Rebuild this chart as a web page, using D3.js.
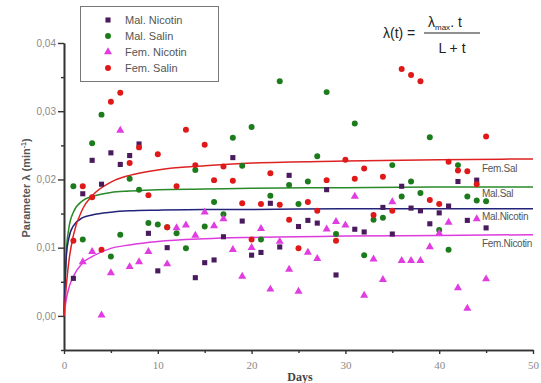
<!DOCTYPE html>
<html>
<head>
<meta charset="utf-8">
<script src="https://cdn.jsdelivr.net/npm/d3@7"></script>
<style>
  body { margin: 0; background: #fff; }
  svg { display: block; }
</style>
</head>
<body>
<svg id="chart" width="541" height="383"></svg>
<script>
// scatter points: [day, lambda]
var malNicotin = [[1,0.0055],[2,0.0179],[3,0.0228],[4,0.0193],[5,0.0239],[6,0.0222],[7,0.0235],[8,0.0252],[9,0.0121],[10,0.0066],
  [11,0.0100],[14,0.0056],[15,0.0078],[16,0.0082],[17,0.0116],[18,0.0232],[19,0.0139],[20,0.0089],[21,0.0093],[22,0.0165],
  [23,0.0101],[24,0.0206],[25,0.0131],[26,0.0140],[27,0.0136],[28,0.0185],[29,0.0060],[31,0.0127],[32,0.0123],[34,0.0159],
  [35,0.0120],[36,0.0190],[37,0.0158],[38,0.0154],[39,0.0135],[40,0.0151],[41,0.0161],[42,0.0197],[43,0.0140],[44,0.0199],[45,0.0129]];
var malSalin = [[1,0.0190],[2,0.0112],[3,0.0253],[4,0.0295],[5,0.0087],[6,0.0119],[7,0.0201],[8,0.0185],[9,0.0136],[10,0.0134],
  [11,0.0130],[12,0.0121],[13,0.0099],[14,0.0214],[15,0.0131],[16,0.0167],[17,0.0149],[18,0.0261],[19,0.0220],[20,0.0277],
  [21,0.0112],[22,0.0176],[23,0.0344],[24,0.0192],[25,0.0164],[26,0.0197],[27,0.0234],[28,0.0328],[29,0.0120],[31,0.0282],
  [32,0.0089],[33,0.0141],[34,0.0144],[35,0.0221],[36,0.0175],[37,0.0197],[38,0.0180],[39,0.0262],[40,0.0126],[41,0.0097],
  [42,0.0221],[43,0.0175],[44,0.0169],[45,0.0168]];
var femNicotin = [[2,0.0079],[3,0.0094],[4,0.0001],[5,0.0063],[6,0.0272],[7,0.0072],[8,0.0079],[9,0.0094],[11,0.0076],[12,0.0129],
  [13,0.0133],[14,0.0118],[15,0.0152],[16,0.0132],[17,0.0142],[18,0.0097],[19,0.0058],[20,0.0100],[21,0.0128],[22,0.0039],
  [23,0.0109],[24,0.0068],[25,0.0036],[26,0.0093],[27,0.0084],[28,0.0127],[29,0.0138],[30,0.0133],[31,0.0175],[32,0.0030],
  [33,0.0083],[34,0.0053],[35,0.0167],[36,0.0081],[37,0.0081],[38,0.0081],[39,0.0101],[40,0.0121],[41,0.0137],[42,0.0041],
  [43,0.0011],[44,0.0142],[45,0.0054]];
var femSalin = [[1,0.0110],[2,0.0190],[3,0.0174],[4,0.0097],[5,0.0314],[6,0.0327],[7,0.0224],[8,0.0247],[9,0.0177],[10,0.0237],
  [11,0.0130],[12,0.0190],[13,0.0273],[14,0.0221],[15,0.0251],[16,0.0199],[17,0.0219],[18,0.0198],[19,0.0165],[20,0.0112],
  [21,0.0164],[22,0.0209],[23,0.0163],[24,0.0141],[25,0.0099],[26,0.0167],[27,0.0154],[28,0.0199],[29,0.0110],[30,0.0229],
  [31,0.0201],[32,0.0216],[33,0.0148],[34,0.0204],[35,0.0154],[36,0.0362],[37,0.0353],[38,0.0344],[39,0.0170],[40,0.0164],
  [41,0.0226],[42,0.0213],[43,0.0212],[44,0.0193],[45,0.0263]];

// fitted curves
var curveDays = [0, 0.25, 0.5, 1, 2, 3, 5, 7, 10, 15, 20, 30, 40, 50];
var femSalFit = [0, 0.0045, 0.0078, 0.0118, 0.0157, 0.0176, 0.0196, 0.0206, 0.0214, 0.0220, 0.0224, 0.0227, 0.0229, 0.0230];
var malSalFit = [0, 0.0095, 0.0127, 0.0152, 0.0169, 0.0175, 0.0181, 0.0183, 0.0185, 0.0186, 0.0187, 0.0188, 0.0189, 0.0189];
var malNicFit = [0, 0.0088, 0.0113, 0.0132, 0.0144, 0.0148, 0.0152, 0.0154, 0.0155, 0.0156, 0.0156, 0.0157, 0.0157, 0.0157];
var femNicFit = [0, 0.0025, 0.0040, 0.0058, 0.0078, 0.0087, 0.0099, 0.0104, 0.0109, 0.0113, 0.0115, 0.0117, 0.0118, 0.0119];

var yMajor = [0, 0.01, 0.02, 0.03, 0.04];
var yMinor = [-0.005, 0.005, 0.015, 0.025, 0.035];
var xMajor = [0, 10, 20, 30, 40, 50];
var xMinor = [5, 15, 25, 35, 45];

var svg = d3.select('#chart');
var xScale = d3.scaleLinear().domain([0, 50]).range([64, 533]);
var yScale = d3.scaleLinear().domain([-0.005, 0.04]).range([350, 43]);

// axes
var yFmt = function(d) { return d3.format('.2f')(d).replace('.', ','); };
var yAxis = svg.append('g').attr('transform', 'translate(64,0)')
  .call(d3.axisLeft(yScale).tickValues(yMajor).tickFormat(yFmt).tickSize(6).tickSizeOuter(0));
svg.append('g').attr('transform', 'translate(64,0)')
  .call(d3.axisLeft(yScale).tickValues(yMinor).tickFormat('').tickSize(3).tickSizeOuter(0));
var xAxis = svg.append('g').attr('transform', 'translate(0,350)')
  .call(d3.axisBottom(xScale).tickValues(xMajor).tickSize(4).tickSizeOuter(0));
svg.append('g').attr('transform', 'translate(0,350)')
  .call(d3.axisBottom(xScale).tickValues(xMinor).tickFormat('').tickSize(3).tickSizeOuter(0));
svg.selectAll('.domain').attr('stroke', '#333').attr('stroke-width', 1.6);
svg.selectAll('.tick line').attr('stroke', '#333').attr('stroke-width', 1.4);
yAxis.selectAll('text').attr('fill', '#8a8a8a').style('font', '10px Arial, sans-serif').attr('x', -8);
xAxis.selectAll('text').attr('fill', '#8a8a8a').style('font', '11px "Liberation Serif", serif').attr('dy', '1.05em');

svg.append('text').attr('x', 300).attr('y', 381).attr('text-anchor', 'middle')
  .style('font', 'bold 12px "Liberation Serif", serif').attr('fill', '#444').text('Days');

var yl = svg.append('text').attr('transform', 'translate(30,188) rotate(-90)').attr('text-anchor', 'middle')
  .style('font', 'bold 11px Arial, sans-serif').attr('fill', '#555');
yl.append('tspan').text('Parameter  λ (min');
yl.append('tspan').attr('dy', -4).style('font-size', '7px').text('-1');
yl.append('tspan').attr('dy', 4).text(')');

// fitted curves
var fits = [
  {vals: malSalFit, color: '#2a8a2a'},
  {vals: malNicFit, color: '#23237a'},
  {vals: femNicFit, color: '#dd3cdd'},
  {vals: femSalFit, color: '#dd2222'}
];
var line = d3.line().curve(d3.curveMonotoneX)
  .x(function(d, i) { return xScale(curveDays[i]); })
  .y(function(d) { return yScale(d); });
svg.append('g').selectAll('path').data(fits).enter().append('path')
  .attr('fill', 'none')
  .attr('stroke', function(d) { return d.color; })
  .attr('stroke-width', 1.5)
  .attr('d', function(d) { return line(d.vals); });

// scatter
var symSquare = d3.symbol().type(d3.symbolSquare).size(26);
var symCircle = d3.symbol().type(d3.symbolCircle).size(28);
var symTri = d3.symbol().type(d3.symbolTriangle).size(28);
var series = [
  {name: 'Mal. Nicotin', data: malNicotin, color: '#4a1a5e', sym: symSquare},
  {name: 'Mal. Salin', data: malSalin, color: '#1c7c1c', sym: symCircle},
  {name: 'Fem. Nicotin', data: femNicotin, color: '#e03ce0', sym: symTri},
  {name: 'Fem. Salin', data: femSalin, color: '#e01818', sym: symCircle}
];
series.forEach(function(s) {
  svg.append('g').selectAll('path').data(s.data).enter().append('path')
    .attr('d', s.sym)
    .attr('fill', s.color)
    .attr('transform', function(d) { return 'translate(' + xScale(d[0]) + ',' + yScale(d[1]) + ')'; });
});

// legend
var legend = svg.append('g');
legend.append('rect').attr('x', 80.5).attr('y', 6.5).attr('width', 138).attr('height', 75)
  .attr('fill', '#fff').attr('stroke', '#777').attr('stroke-width', 1);
series.forEach(function(s, i) {
  var yy = 20 + i * 16;
  legend.append('path').attr('d', s.sym).attr('fill', s.color).attr('transform', 'translate(108,' + yy + ')');
  legend.append('text').attr('x', 125).attr('y', yy).attr('dy', '0.35em')
    .style('font', '11px Arial, sans-serif').attr('fill', '#555').text(s.name);
});

// right-side curve labels
var endLabels = [
  {text: 'Fem.Sal', y: 168},
  {text: 'Mal.Sal', y: 193},
  {text: 'Mal.Nicotin', y: 216},
  {text: 'Fem.Nicotin', y: 243}
];
svg.append('g').selectAll('text').data(endLabels).enter().append('text')
  .attr('x', 482).attr('y', function(d) { return d.y; }).attr('dy', '0.35em')
  .style('font', '10px Arial, sans-serif').attr('fill', '#555').attr('letter-spacing', '-0.3')
  .text(function(d) { return d.text; });

// formula
var f = svg.append('g').style('font', '14px Arial, sans-serif').attr('fill', '#222');
f.append('text').attr('x', 383).attr('y', 38).text('λ(t) =');
var num = f.append('text').attr('x', 428).attr('y', 27);
num.append('tspan').text('λ');
num.append('tspan').attr('dy', 3).style('font-size', '8px').text('max');
num.append('tspan').attr('dy', -3).text('. t');
f.append('line').attr('x1', 424).attr('x2', 480).attr('y1', 33).attr('y2', 33)
  .attr('stroke', '#222').attr('stroke-width', 1.2);
f.append('text').attr('x', 452).attr('y', 53).attr('text-anchor', 'middle').text('L + t');
</script>
</body>
</html>
